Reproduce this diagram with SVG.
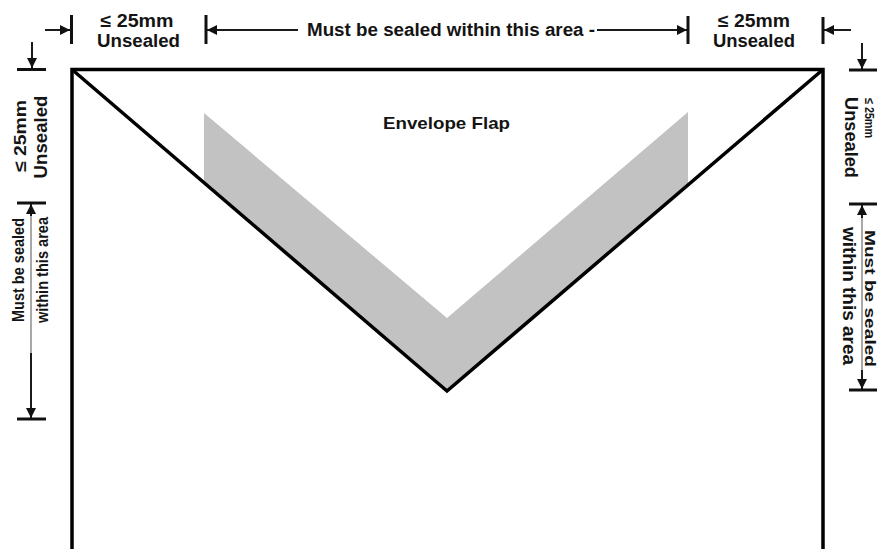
<svg xmlns="http://www.w3.org/2000/svg" width="877" height="549" viewBox="0 0 877 549">
  <style>
    .lbl { font-family: "Liberation Sans", Arial, sans-serif; font-weight: bold; fill: #141414; }
    .dim { stroke: #1a1a1a; stroke-width: 2; fill: none; }
    .dimfade { stroke: #a8a8a8; stroke-width: 2; fill: none; }
    .tick { stroke: #111; stroke-width: 3; fill: none; }
    .edge { stroke: #000; stroke-width: 3.5; fill: none; stroke-linejoin: miter; }
  </style>
  <defs>
    <marker id="ah" viewBox="0 0 10 10" refX="10" refY="5" markerWidth="11" markerHeight="10" markerUnits="userSpaceOnUse" orient="auto-start-reverse">
      <path d="M0,0 L10,5 L0,10 Z" fill="#111"/>
    </marker>
  </defs>

  <rect width="877" height="549" fill="#fff"/>

  <!-- envelope body and flap -->
  <g id="envelope">
    <polygon id="seal-band" points="204,113 447,318 688,112 688,184 447,391 204,182" fill="#c2c2c2"/>
    <path class="edge" d="M72,549 L72,69.5 L823,69.5 L823,549"/>
    <path class="edge" d="M72,69.5 L447,391 L823,69.5"/>
    <text class="lbl" x="446.5" y="129" font-size="17" text-anchor="middle" textLength="127" lengthAdjust="spacingAndGlyphs">Envelope Flap</text>
  </g>

  <!-- dimension connectors -->
  <g id="connectors">
    <!-- top edge -->
    <line class="dim" x1="45" y1="30" x2="70" y2="30" marker-end="url(#ah)"/>
    <line class="tick" x1="71.5" y1="15" x2="71.5" y2="44"/>
    <line class="tick" x1="206" y1="15" x2="206" y2="44"/>
    <line class="dim" x1="298" y1="30" x2="207" y2="30" marker-end="url(#ah)"/>
    <line class="dim" x1="597" y1="30" x2="687" y2="30" marker-end="url(#ah)"/>
    <line class="tick" x1="688" y1="16" x2="688" y2="44"/>
    <line class="tick" x1="823" y1="17" x2="823" y2="44"/>
    <line class="dim" x1="851" y1="30" x2="824" y2="30" marker-end="url(#ah)"/>

    <!-- left side -->
    <line class="dim" x1="32" y1="42" x2="32" y2="68" marker-end="url(#ah)"/>
    <line class="tick" x1="17" y1="69.5" x2="46" y2="69.5"/>
    <line class="tick" x1="17" y1="203" x2="46" y2="203"/>
    <line class="dim" x1="31" y1="204" x2="31" y2="418" marker-start="url(#ah)" marker-end="url(#ah)"/>
    <line class="dimfade" x1="31" y1="216" x2="31" y2="353"/>
    <line class="tick" x1="17" y1="419" x2="46" y2="419"/>

    <!-- right side -->
    <line class="dim" x1="862" y1="43" x2="862" y2="69" marker-end="url(#ah)"/>
    <line class="tick" x1="849" y1="70" x2="877" y2="70"/>
    <line class="tick" x1="849" y1="204" x2="877" y2="204"/>
    <line class="dim" x1="862" y1="205" x2="862" y2="389" marker-start="url(#ah)" marker-end="url(#ah)"/>
    <line class="dimfade" x1="862" y1="218" x2="862" y2="370"/>
    <line class="tick" x1="849" y1="390" x2="877" y2="390"/>
  </g>

  <!-- top labels -->
  <g id="top-left-label">
    <text class="lbl" x="137" y="27" font-size="18" text-anchor="middle" textLength="73" lengthAdjust="spacingAndGlyphs">≤ 25mm</text>
    <text class="lbl" x="138.5" y="46.5" font-size="18" text-anchor="middle" textLength="83" lengthAdjust="spacingAndGlyphs">Unsealed</text>
  </g>
  <g id="top-center-label">
    <text class="lbl" x="451" y="36" font-size="18" text-anchor="middle" textLength="288" lengthAdjust="spacingAndGlyphs">Must be sealed within this area -</text>
  </g>
  <g id="top-right-label">
    <text class="lbl" x="754" y="27" font-size="18" text-anchor="middle" textLength="72" lengthAdjust="spacingAndGlyphs">≤ 25mm</text>
    <text class="lbl" x="754" y="46.5" font-size="18" text-anchor="middle" textLength="82" lengthAdjust="spacingAndGlyphs">Unsealed</text>
  </g>

  <!-- left side labels (read bottom to top) -->
  <g id="left-upper-label">
    <text class="lbl" transform="translate(26,136) rotate(-90)" font-size="17" text-anchor="middle" textLength="72" lengthAdjust="spacingAndGlyphs">≤ 25mm</text>
    <text class="lbl" transform="translate(47,137) rotate(-90)" font-size="18" text-anchor="middle" textLength="83" lengthAdjust="spacingAndGlyphs">Unsealed</text>
  </g>
  <g id="left-lower-label">
    <text class="lbl" transform="translate(24,270) rotate(-90)" font-size="17" text-anchor="middle" textLength="104" lengthAdjust="spacingAndGlyphs">Must be sealed</text>
    <text class="lbl" transform="translate(48,270) rotate(-90)" font-size="17" text-anchor="middle" textLength="106" lengthAdjust="spacingAndGlyphs">within this area</text>
  </g>

  <!-- right side labels (read top to bottom) -->
  <g id="right-upper-label">
    <text class="lbl" transform="translate(865,118) rotate(90)" font-size="13" text-anchor="middle" textLength="40" lengthAdjust="spacingAndGlyphs">≤ 25mm</text>
    <text class="lbl" transform="translate(845,137.5) rotate(90)" font-size="18" text-anchor="middle" textLength="81" lengthAdjust="spacingAndGlyphs">Unsealed</text>
  </g>
  <g id="right-lower-label">
    <text class="lbl" transform="translate(865,298.5) rotate(90)" font-size="14" text-anchor="middle" textLength="137" lengthAdjust="spacingAndGlyphs">Must be sealed</text>
    <text class="lbl" transform="translate(843,296) rotate(90)" font-size="18" text-anchor="middle" textLength="138" lengthAdjust="spacingAndGlyphs">within this area</text>
  </g>
</svg>
